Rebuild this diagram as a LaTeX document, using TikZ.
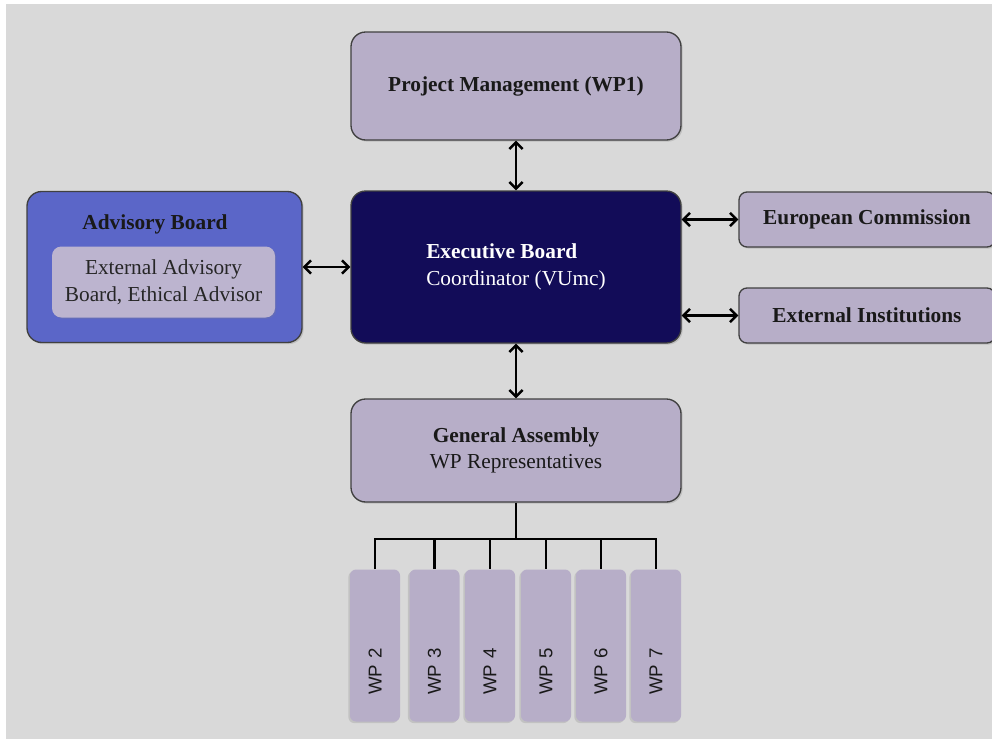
\documentclass[tikz,border=0pt]{standalone}
\usepackage{fontspec}
\setmainfont{Liberation Serif}
\setsansfont{Liberation Sans}
\usetikzlibrary{arrows.meta,shadows}

\definecolor{bggray}{RGB}{217,217,217}
\definecolor{lilac}{RGB}{183,174,200}
\definecolor{lilaclight}{RGB}{188,180,207}
\definecolor{navy}{RGB}{18,12,88}
\definecolor{advblue}{RGB}{91,102,200}

\begin{document}
\begin{tikzpicture}[x=0.75pt,y=-0.75pt]
\tikzstyle{mainbox} = [rectangle, draw=black!75, line width=1pt, rounded corners=11pt,
text=black!90, font=\fontsize{16}{20}\selectfont, align=center,
drop shadow={opacity=0.3, shadow xshift=1.2pt, shadow yshift=-1.2pt}]
\tikzstyle{sidebox} = [mainbox, fill=lilac, rounded corners=6pt,
minimum width=192pt, minimum height=41.25pt]
\tikzstyle{innerbox} = [rectangle, fill=lilaclight, rounded corners=7pt,
text=black!85, font=\fontsize{16}{20}\selectfont, align=center,
minimum width=167.25pt, minimum height=53.25pt,
drop shadow={opacity=0.2, shadow xshift=1pt, shadow yshift=-1pt}]
\tikzstyle{wpbox} = [rectangle, fill=lilac, rounded corners=4.5pt, rotate=90,
font=\sffamily\fontsize{14}{16}\selectfont, text=black!90,
text width=74pt, align=left, inner xsep=20pt, minimum height=37.5pt,
drop shadow={opacity=0.25, shadow xshift=-1.2pt, shadow yshift=-1.2pt}]
\tikzstyle{link} = [draw, line width=1.8pt,
{Straight Barb[length=5pt,width=10pt]}-{Straight Barb[length=5pt,width=10pt]}]
\tikzstyle{tree} = [draw, line width=1.8pt]

\useasboundingbox (0,0) rectangle (992,739);
\fill[white] (0,0) rectangle (992,739);
\fill[bggray] (6,4) rectangle (992,739);

% top
\node[mainbox, fill=lilac, minimum width=247.5pt, minimum height=81pt] (pm) at (516,86)
{\textbf{Project Management (WP1)}};
% middle row
\node[mainbox, fill=navy, text=white, align=left, minimum width=247.5pt, minimum height=114pt]
(eb) at (516,267) {\textbf{Executive Board}\\Coordinator (VUmc)};
\node[mainbox, fill=advblue, minimum width=206.25pt, minimum height=113.25pt] (ab) at (164.5,267) {};
\node[font=\fontsize{16}{20}\selectfont, text=black!90] (abtitle) at (155,224) {\textbf{Advisory Board}};
\node[innerbox] (abin) at (163.5,282) {External Advisory\\Board, Ethical Advisor};
\node[sidebox] (ec) at (867,219.5) {\textbf{European Commission}};
\node[sidebox] (ei) at (867,315.5) {\textbf{External Institutions}};
% bottom
\node[mainbox, fill=lilac, minimum width=247.5pt, minimum height=77.25pt] (ga) at (516,450.5)
{\textbf{General Assembly}\\WP Representatives};
\foreach \n/\x in {2/375,3/434.5,4/490,5/546,6/601,7/656}
  \node[wpbox] (wp\n) at (\x,645.5) {WP \n};

\path[link] (pm) -- (eb);
\path[link] (ab) -- (eb);
\path[link] (ec.west -| eb.east) -- (ec.west);
\path[link] (ei.west -| eb.east) -- (ei.west);
\path[link] (eb) -- (ga);

% wp tree (east = top of rotated boxes)
\coordinate (split) at (516,539);
\path[tree] (ga.south) -- (split);
\path[tree] (wp2.east) |- (split) -| (wp7.east);
\foreach \n in {3,...,6}
  \path[tree] (wp\n.east |- split) -- (wp\n.east);
\end{tikzpicture}
\end{document}
